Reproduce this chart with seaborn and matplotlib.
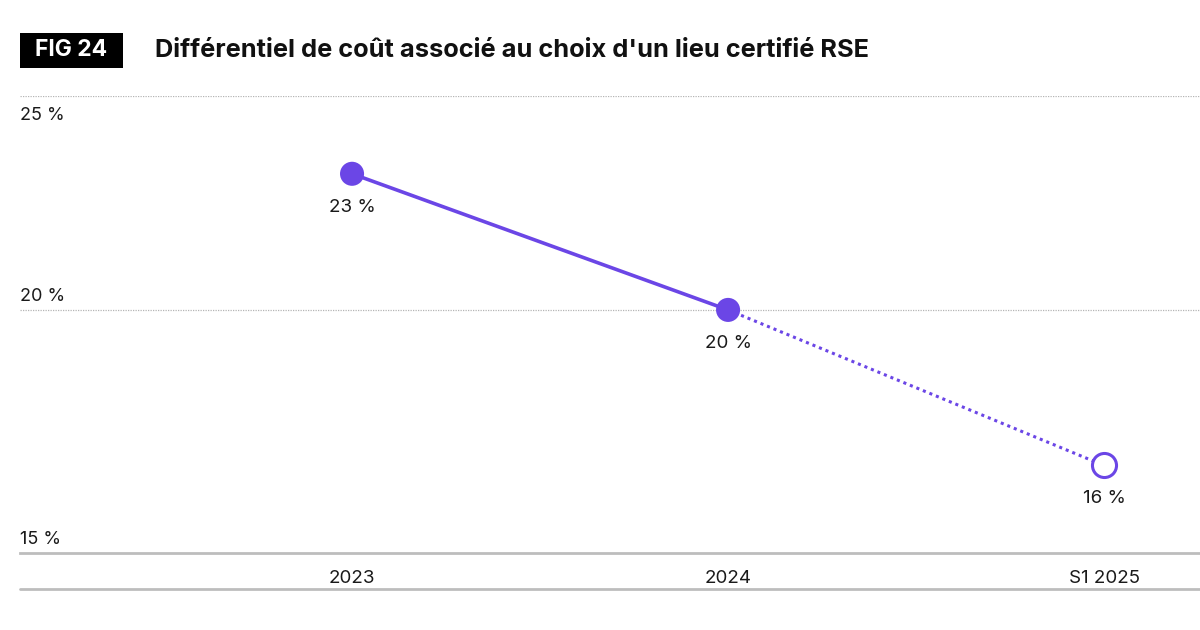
import matplotlib
matplotlib.use("Agg")
import matplotlib.pyplot as plt
import seaborn as sns
import pandas as pd
from matplotlib.patches import Rectangle
from matplotlib.lines import Line2D
import matplotlib.transforms as mtransforms

# Data
periods = ["2023", "2024", "S1 2025"]
values = [22.8, 20.0, 16.8]
value_labels = ["23 %", "20 %", "16 %"]
y_ticks = [15, 20, 24.4]
y_tick_labels = ["15 %", "20 %", "25 %"]

title = "Différentiel de coût associé au choix d'un lieu certifié RSE"
fig_label = "FIG 24"

purple = "#6b46e6"
grey_line = "#bdbdbd"

sns.set_theme(style="white")
plt.rcParams["font.family"] = ["Inter", "DejaVu Sans"]

df = pd.DataFrame({"x": range(len(periods)), "period": periods, "value": values})

fig = plt.figure(figsize=(12, 6.3), dpi=100)
ax = fig.add_axes([20 / 1200, 1 - 553 / 630, 1 - 20 / 1200, (553 - 96) / 630])

# solid segment for actual years, dotted towards the half-year estimate
sns.lineplot(data=df.iloc[:2], x="x", y="value", ax=ax, color=purple, linewidth=2.6)
sns.lineplot(data=df.iloc[1:], x="x", y="value", ax=ax, color=purple,
             linewidth=2.2, linestyle=(0, (1, 1.3)))
sns.scatterplot(data=df.iloc[:2], x="x", y="value", ax=ax, color=purple,
                s=300, edgecolor="none", zorder=5)
ax.scatter(df["x"].iloc[2], df["value"].iloc[2], s=300, facecolor="white",
           edgecolor=purple, linewidth=2.2, zorder=5)

for xi, v, lab in zip(df["x"], df["value"], value_labels):
    ax.annotate(lab, (xi, v), xytext=(0, -24), textcoords="offset points",
                ha="center", va="center", fontsize=13.5, color="#1a1a1a")

ax.set_xlim(-0.883, 2.255)
ax.set_ylim(15, 24.4)
ax.set_xticks(df["x"])
ax.set_xticklabels(periods, fontsize=13.5, color="#1a1a1a")
ax.tick_params(axis="x", length=0, pad=12)
ax.set_yticks(y_ticks)
ax.set_yticklabels([])
ax.tick_params(axis="y", length=0)
ax.set_xlabel("")
ax.set_ylabel("")

for yt in y_ticks[1:]:
    ax.axhline(yt, color="#b5b5b5", linewidth=0.9, linestyle=(0, (1, 1)), zorder=0)

for s in ["left", "right", "top"]:
    ax.spines[s].set_visible(False)
ax.spines["bottom"].set_color(grey_line)
ax.spines["bottom"].set_linewidth(2)

# y labels: 15 and 20 sit above their lines, 25 sits below the top line
trans = mtransforms.blended_transform_factory(fig.transFigure, ax.transData)
offsets = [13, 13, -19]
for yt, lab, off in zip(y_ticks, y_tick_labels, offsets):
    ax.annotate(lab, xy=(20 / 1200, yt), xycoords=trans, xytext=(0, off),
                textcoords="offset pixels", ha="left", va="center",
                fontsize=13, color="#1a1a1a")

# bottom rule
fig.add_artist(Line2D([20 / 1200, 1], [1 - 589 / 630] * 2, transform=fig.transFigure,
                      color=grey_line, linewidth=2))

# header
fig.add_artist(Rectangle((20 / 1200, 1 - 68 / 630), 103 / 1200, 35 / 630,
                         transform=fig.transFigure, facecolor="black", edgecolor="none"))
fig.text(71.5 / 1200, 1 - 50.5 / 630, fig_label, color="white", fontsize=16.5,
         fontweight="bold", ha="center", va="center")
fig.text(155 / 1200, 1 - 50.5 / 630, title, color="#111111", fontsize=18.3,
         fontweight="bold", ha="left", va="center")

fig.savefig("out.png", dpi=100, facecolor="white")
